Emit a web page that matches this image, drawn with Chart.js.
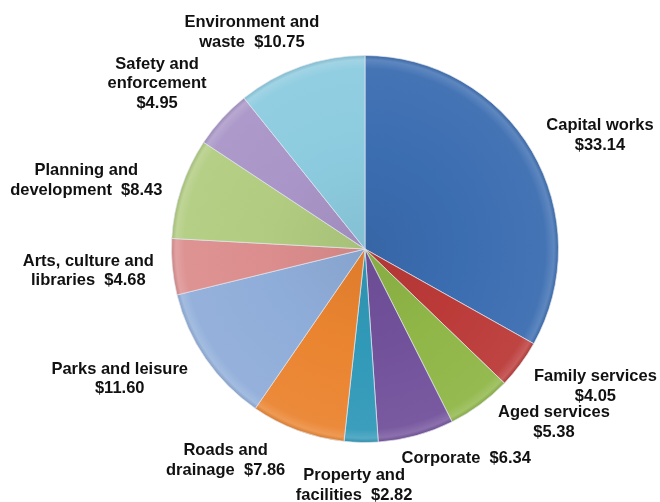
<!DOCTYPE html>
<html>
<head>
<meta charset="utf-8">
<title>Spending by service area</title>
<script src="https://cdn.jsdelivr.net/npm/chart.js@4.4.0/dist/chart.umd.min.js"></script>
<style>
  html, body { margin: 0; padding: 0; background: #fff; }
  #wrap { width: 660px; height: 502px; }
</style>
</head>
<body>
<div id="wrap"><canvas id="gastos" width="660" height="502"></canvas></div>
<script>
// ------- datos -------
const categories = [
  'Capital works', 'Family services', 'Aged services', 'Corporate',
  'Property and facilities', 'Roads and drainage', 'Parks and leisure',
  'Arts, culture and libraries', 'Planning and development',
  'Safety and enforcement', 'Environment and waste'
];
const spending = [33.14, 4.05, 5.38, 6.34, 2.82, 7.86, 11.60, 4.68, 8.43, 4.95, 10.75];

// texto de cada etiqueta, línea por línea (%v = valor)
const labelLines = [
  ['Capital works', '%v'],
  ['Family services', '%v'],
  ['Aged services', '%v'],
  ['Corporate  %v'],
  ['Property and', 'facilities  %v'],
  ['Roads and', 'drainage  %v'],
  ['Parks and leisure', '%v'],
  ['Arts, culture and', 'libraries  %v'],
  ['Planning and', 'development  %v'],
  ['Safety and', 'enforcement', '%v'],
  ['Environment and', 'waste  %v']
];

// ------- estilos -------
const SLICE_COLORS = [
  '#3b6db1', '#bb3a38', '#8fb647', '#72519b', '#3199b8', '#ea8430',
  '#8fadd9', '#dc8d8d', '#b1cc80', '#a995c7', '#8ccbdf'
];

// desplazamiento del centro de cada etiqueta respecto al borde del sector
const LABEL_OFFSETS = [
  [68, -16], [75, 22], [74, 18], [50, 23], [-7, 43], [-72, 30],
  [-86, 20], [-84, 4], [-95, -8], [-65, -35], [-49, -34]
];

function mezclar(hex, target, t) {
  const n = parseInt(hex.slice(1), 16);
  const r = (n >> 16) & 255, g = (n >> 8) & 255, b = n & 255;
  const m = c => Math.round(c + (target - c) * t);
  return `rgb(${m(r)},${m(g)},${m(b)})`;
}

// relleno con degradado radial (centro algo más oscuro, borde claro)
function rellenoSector(ctx) {
  const base = SLICE_COLORS[ctx.dataIndex % SLICE_COLORS.length];
  const area = ctx.chart.chartArea;
  if (!area) return base;
  const cx = (area.left + area.right) / 2;
  const cy = (area.top + area.bottom) / 2;
  const r = Math.min(area.right - area.left, area.bottom - area.top) / 2;
  const g = ctx.chart.ctx.createRadialGradient(cx, cy, 0, cx, cy, r);
  g.addColorStop(0, mezclar(base, 0, 0.06));
  g.addColorStop(0.5, base);
  g.addColorStop(0.93, mezclar(base, 255, 0.05));
  g.addColorStop(0.975, mezclar(base, 255, 0.18));
  g.addColorStop(1, mezclar(base, 0, 0.1));
  return g;
}

// plugin: etiquetas fuera del pastel
const etiquetasFuera = {
  id: 'etiquetasFuera',
  afterDatasetsDraw(chart) {
    const meta = chart.getDatasetMeta(0);
    const ctx = chart.ctx;
    const valores = chart.data.datasets[0].data;
    ctx.save();
    ctx.font = 'bold 16.5px "Liberation Sans", Arial, sans-serif';
    ctx.fillStyle = '#111';
    ctx.textAlign = 'center';
    ctx.textBaseline = 'middle';
    const alto = 19.5;
    meta.data.forEach((arc, i) => {
      const p = arc.getProps(['x', 'y', 'startAngle', 'endAngle', 'outerRadius'], true);
      const mid = (p.startAngle + p.endAngle) / 2;
      const ax = p.x + Math.cos(mid) * p.outerRadius;
      const ay = p.y + Math.sin(mid) * p.outerRadius;
      const [dx, dy] = LABEL_OFFSETS[i];
      const lineas = labelLines[i].map(t => t.replace('%v', '$' + valores[i].toFixed(2)));
      const y0 = ay + dy - (lineas.length - 1) * alto / 2;
      lineas.forEach((t, k) => ctx.fillText(t, ax + dx, y0 + k * alto));
    });
    ctx.restore();
  }
};

new Chart(document.getElementById('gastos'), {
  type: 'pie',
  data: {
    labels: categories,
    datasets: [{
      data: spending,
      backgroundColor: rellenoSector,
      borderColor: 'rgba(225,230,238,0.7)',
      borderWidth: 1,
      hoverBorderWidth: 1,
      hoverOffset: 0
    }]
  },
  options: {
    responsive: false,
    animation: false,
    layout: { padding: { left: 171, right: 101, top: 55, bottom: 59 } },
    plugins: {
      legend: { display: false },
      tooltip: { enabled: false }
    }
  },
  plugins: [etiquetasFuera]
});
</script>
</body>
</html>
